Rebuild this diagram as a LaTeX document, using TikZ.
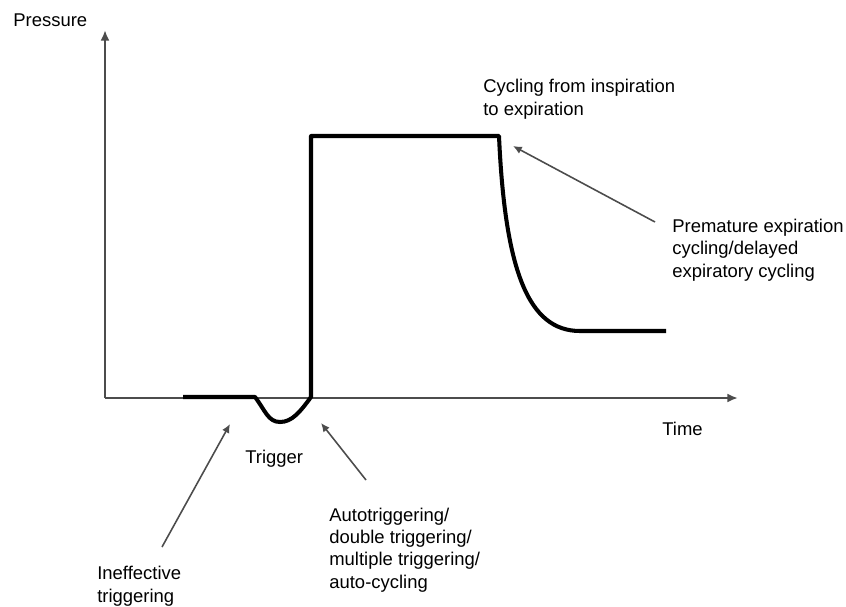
\documentclass[tikz,border=0pt]{standalone}
\usepackage{fontspec}
\setmainfont{Liberation Sans}
\usetikzlibrary{arrows.meta}

\begin{document}
\begin{tikzpicture}[
    x=0.02cm, y=-0.02cm,
    every node/.style={inner sep=0pt, anchor=base west, align=left, font=\fontsize{10.5}{12.7}\selectfont},
    axis/.style={draw=black!70, line width=1.2pt, -{Latex[length=6pt,width=5pt]}},
    curve/.style={line width=2.3pt, line join=round},
    note/.style={draw=black!70, line width=0.9pt, -{Latex[length=5pt,width=4.5pt]}}
]
\useasboundingbox (0,0) rectangle (846,606);

% Axes
\coordinate (O) at (105,398);
\coordinate (ytop) at (105,30);
\coordinate (xend) at (738,398);
\draw[axis] (O) -- (ytop);
\draw[axis] (O) -- (xend);

% Pressure curve
\draw[curve] (183,397) -- (255,397)
    .. controls (265,410) and (268,422) .. (280,422)
    .. controls (292,422) and (300,412) .. (311,397)
    -- (311,136) -- (499,136)
    .. controls (505,270) and (528,331) .. (580,331)
    -- (666,331);

% Labels (base = last line)
\node (pressure) at (13,26) {Pressure};
\node (time) at (662,435) {Time};
\node (cyc) at (483,115) {Cycling from inspiration\\to expiration};
\node (prem) at (672,277) {Premature expiration\\cycling/delayed\\expiratory cycling};
\node (trig) at (245,463) {Trigger};
\node (auto) at (329,588) {Autotriggering/\\double triggering/\\multiple triggering/\\auto-cycling};
\node (ineff) at (97,602) {Ineffective\\triggering};

% Arrow ends
\coordinate (premtail) at (655,222);
\coordinate (premtip) at (513,146);
\coordinate (autotail) at (366,480);
\coordinate (autotip) at (321,423);
\coordinate (inefftail) at (162,547);
\coordinate (inefftip) at (230,424);

% Arrows
\draw[note] (premtail) -- (premtip);
\draw[note] (autotail) -- (autotip);
\draw[note] (inefftail) -- (inefftip);

\end{tikzpicture}
\end{document}
